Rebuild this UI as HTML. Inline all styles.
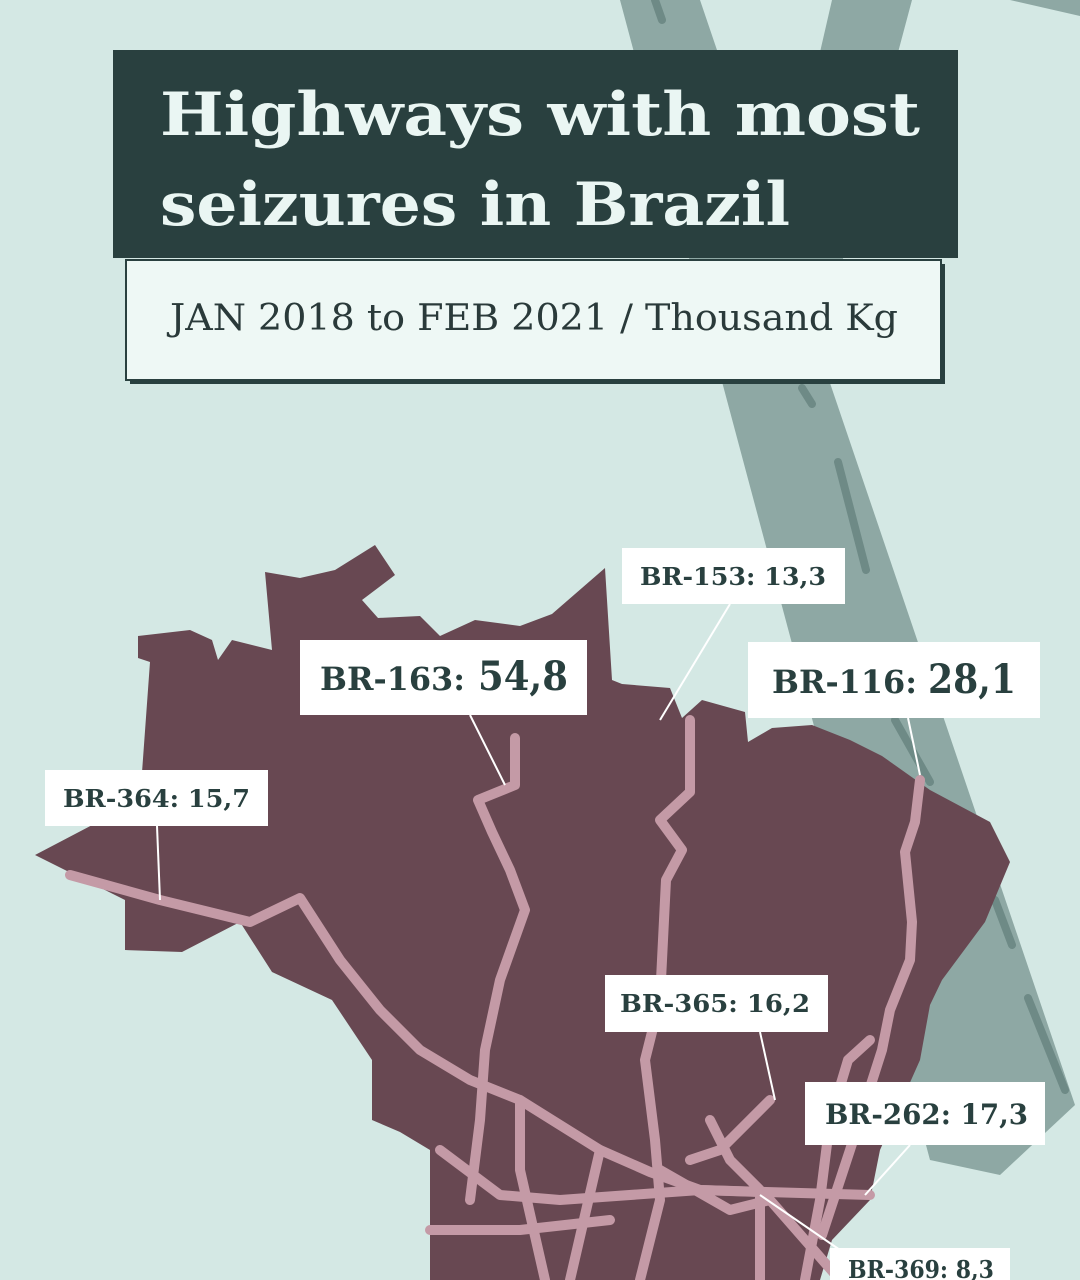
<!DOCTYPE html>
<html><head><meta charset="utf-8"><style>html,body{margin:0;padding:0;background:#d4e8e4}svg{display:block}</style></head>
<body>
<svg width="1080" height="1280" viewBox="0 0 1080 1280" xmlns="http://www.w3.org/2000/svg" font-family="'DejaVu Serif','Liberation Serif',serif">
<rect width="1080" height="1280" fill="#d4e8e4"/>
<!-- highway background -->
<g fill="#8ea8a4">
<polygon points="620,0 700,0 1075,1105 1000,1175 930,1160"/>
<polygon points="832,0 912,0 800,420 740,400"/>
<polygon points="1010,0 1080,0 1080,16"/>
</g>
<g stroke="#6e8a86" stroke-width="8" stroke-linecap="round">
<line x1="655" y1="0" x2="662" y2="20"/>
<line x1="802" y1="388" x2="812" y2="404"/>
<line x1="838" y1="462" x2="866" y2="570"/>
<line x1="895" y1="720" x2="930" y2="782"/>
<line x1="995" y1="900" x2="1012" y2="945"/>
<line x1="1028" y1="998" x2="1065" y2="1090"/>
</g>
<!-- title -->
<rect x="113" y="50" width="845" height="208" fill="#29403f"/>
<text x="160" y="135" font-size="60" font-weight="bold" fill="#eaf6f3" textLength="760" lengthAdjust="spacingAndGlyphs">Highways with most</text>
<text x="160" y="225" font-size="60" font-weight="bold" fill="#eaf6f3" textLength="630" lengthAdjust="spacingAndGlyphs">seizures in Brazil</text>
<rect x="130" y="264" width="815" height="120" fill="#29403f"/>
<rect x="126" y="260" width="815" height="120" fill="#eef8f5" stroke="#29403f" stroke-width="2"/>
<text x="534" y="330" font-size="36" fill="#2a3a3a" text-anchor="middle" textLength="728" lengthAdjust="spacingAndGlyphs">JAN 2018 to FEB 2021 / Thousand Kg</text>
<!-- map -->
<polygon fill="#684852" points="35,855 140,800 150,662 138,658 138,636 190,630 212,640 218,660 232,640 272,650 265,572 300,578 335,570 375,545 395,575 362,600 378,618 420,616 440,636 475,620 520,626 552,614 605,568 612,680 622,684 670,688 682,718 702,700 745,712 748,742 772,728 812,725 850,740 882,756 930,790 990,822 1010,862 985,922 942,980 930,1005 920,1060 880,1150 870,1200 832,1240 820,1280 430,1280 430,1150 400,1132 372,1120 372,1060 332,1000 272,972 240,922 182,952 125,950 125,900"/>
<g fill="none" stroke="#c49aa6" stroke-width="10" stroke-linejoin="round" stroke-linecap="round">
<polyline points="70,875 160,900 250,922 300,898 340,960 380,1010 420,1050 470,1080 520,1100 600,1150 650,1172 700,1190 760,1192"/>
<polyline points="515,738 515,785 478,800 492,832 510,870 525,910 500,980 485,1050 480,1120 470,1200"/>
<polyline points="690,720 690,792 660,820 682,850 666,880 660,1000 645,1060 655,1140 660,1200 640,1280"/>
<polyline points="920,780 915,822 905,852 912,922 910,960 890,1010 882,1050 850,1150 822,1235"/>
<polyline points="870,1040 848,1060 830,1120 820,1200 805,1280"/>
<polyline points="440,1150 500,1195 560,1200 700,1190 870,1195"/>
<polyline points="520,1100 520,1170 545,1280"/>
<polyline points="600,1150 570,1280"/>
<polyline points="660,1170 730,1210 770,1200 840,1280"/>
<polyline points="710,1120 730,1160 760,1190 760,1280"/>
<polyline points="770,1100 720,1150 690,1160"/>
<polyline points="430,1230 520,1230 610,1220"/>
</g>
<!-- leader lines -->
<g stroke="#ffffff" stroke-width="2" fill="none">
<line x1="730" y1="604" x2="660" y2="720"/>
<line x1="470" y1="715" x2="505" y2="785"/>
<line x1="908" y1="718" x2="920" y2="775"/>
<line x1="157" y1="826" x2="160" y2="900"/>
<line x1="760" y1="1032" x2="775" y2="1100"/>
<line x1="910" y1="1145" x2="865" y2="1195"/>
<line x1="760" y1="1195" x2="840" y2="1250"/>
</g>
<!-- labels -->
<g fill="#ffffff">
<rect x="622" y="548" width="223" height="56"/>
<rect x="300" y="640" width="287" height="75"/>
<rect x="748" y="642" width="292" height="76"/>
<rect x="45" y="770" width="223" height="56"/>
<rect x="605" y="975" width="223" height="57"/>
<rect x="805" y="1082" width="240" height="63"/>
<rect x="830" y="1248" width="180" height="40"/>
</g>
<g fill="#29403f" font-weight="bold">
<text x="640" y="585" font-size="24" textLength="186" lengthAdjust="spacingAndGlyphs">BR-153: 13,3</text>
<text x="320" y="690" font-size="32" textLength="145" lengthAdjust="spacingAndGlyphs">BR-163:</text>
<text x="478" y="690" font-size="40" textLength="90" lengthAdjust="spacingAndGlyphs">54,8</text>
<text x="772" y="693" font-size="32" textLength="145" lengthAdjust="spacingAndGlyphs">BR-116:</text>
<text x="928" y="693" font-size="40" textLength="88" lengthAdjust="spacingAndGlyphs">28,1</text>
<text x="63" y="807" font-size="24" textLength="187" lengthAdjust="spacingAndGlyphs">BR-364: 15,7</text>
<text x="620" y="1012" font-size="24" textLength="190" lengthAdjust="spacingAndGlyphs">BR-365: 16,2</text>
<text x="825" y="1124" font-size="28" textLength="203" lengthAdjust="spacingAndGlyphs">BR-262: 17,3</text>
<text x="848" y="1278" font-size="24" textLength="146" lengthAdjust="spacingAndGlyphs">BR-369: 8,3</text>
</g>
</svg>
</body></html>
